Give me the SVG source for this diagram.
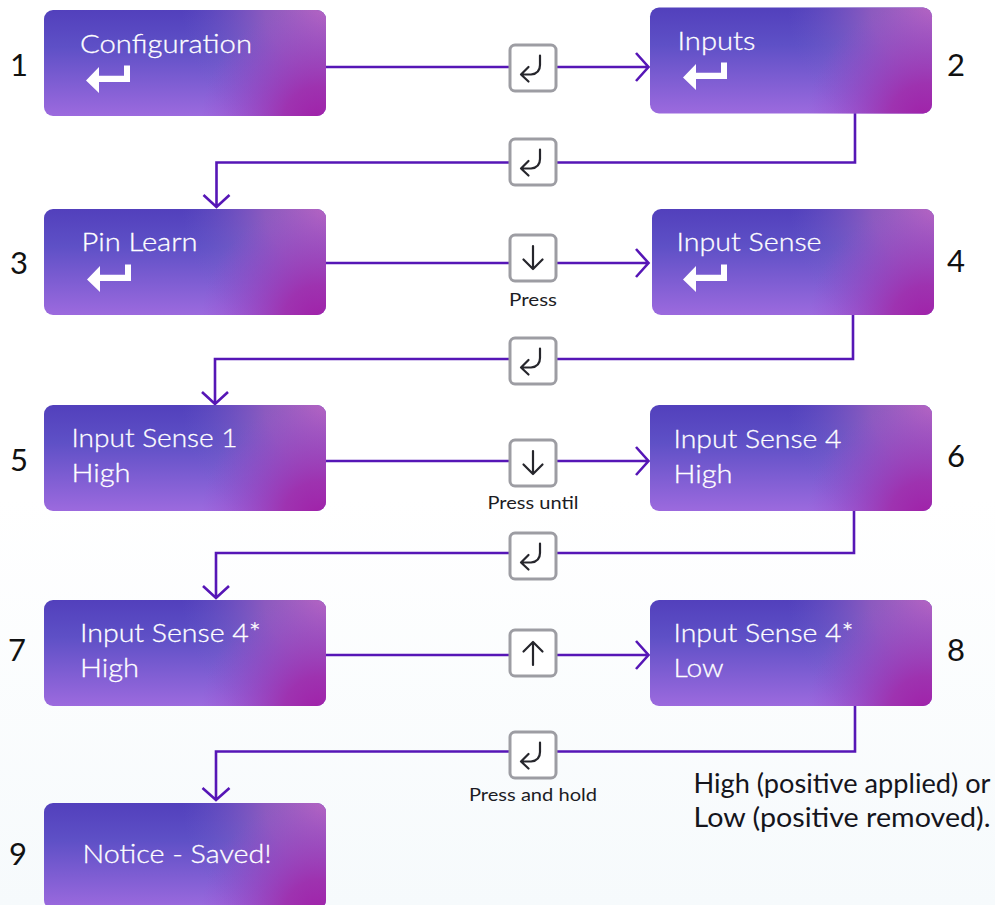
<svg xmlns="http://www.w3.org/2000/svg" width="995" height="905" viewBox="0 0 995 905">
<style>
.t{font-family:"Lato","Liberation Sans",sans-serif;font-size:26px;font-weight:300;fill:#fff;stroke:#fff;stroke-width:0.3}
.n{font-family:"Lato","Liberation Sans",sans-serif;font-size:31px;fill:#111;text-anchor:middle}
.l{font-family:"Lato","Liberation Sans",sans-serif;font-size:17px;fill:#1c1c24;text-anchor:middle}
.c{font-family:"Lato","Liberation Sans",sans-serif;font-size:26px;fill:#15151c}
.w{fill:none;stroke:#5616b6;stroke-width:2.6}
.k{fill:#fff;stroke:#9d9da3;stroke-width:3}
.g{fill:none;stroke:#26262c;stroke-width:2.2;stroke-linecap:round;stroke-linejoin:round}
.e{fill:#fff}
</style>
<defs>
<linearGradient id="bg" x1="0" y1="0" x2="0" y2="1"><stop offset="0.55" stop-color="#fff"/><stop offset="1" stop-color="#f6fafc"/></linearGradient>
<linearGradient id="base" x1="0" y1="0" x2="0" y2="1"><stop offset="0" stop-color="#5240bc"/><stop offset="0.35" stop-color="#5e50c6"/><stop offset="1" stop-color="#9c6ade"/></linearGradient>
<radialGradient id="tr" gradientUnits="userSpaceOnUse" cx="288" cy="-4" r="150"><stop offset="0" stop-color="#bc68c2"/><stop offset="0.45" stop-color="#a464c0" stop-opacity="0.7"/><stop offset="1" stop-color="#7060c8" stop-opacity="0"/></radialGradient>
<radialGradient id="br" gradientUnits="userSpaceOnUse" cx="275" cy="112" r="118"><stop offset="0" stop-color="#a020a8"/><stop offset="0.3" stop-color="#a02cac" stop-opacity="0.88"/><stop offset="1" stop-color="#9848cc" stop-opacity="0"/></radialGradient>
<g id="box"><rect width="282" height="106" rx="9" fill="url(#base)"/><rect width="282" height="106" rx="9" fill="url(#tr)"/><rect width="282" height="106" rx="9" fill="url(#br)"/></g>
<path id="ent" class="e" d="M0 13.500L13 0V8.800H38V-1.500H44V15H13V26Z"/>
<g id="kE"><rect class="k" x="-23" y="-23" width="46" height="46" rx="5"/><path class="g" d="M7 -12.500V-3C7 3 3 6 -2 6.500H-12M-4.500 -1L-12 6.500L-4.500 13.500"/></g>
<g id="kD"><rect class="k" x="-23" y="-23" width="46" height="46" rx="5"/><path class="g" d="M0 -12V10M-9.500 1.500L0 11L9.500 1.500"/></g>
<g id="kU"><rect class="k" x="-23" y="-23" width="46" height="46" rx="5"/><path class="g" d="M0 12V-10M-9.500 -1.500L0 -11L9.500 -1.500"/></g>
</defs>
<rect width="995" height="905" fill="url(#bg)"/>
<g id="connectors">
<path class="w" d="M326 67H648M636 53L648.500 67L636 81"/>
<path class="w" d="M855 113V162.500H216.500V207M203.500 195L216.500 207L229.500 195"/>
<path class="w" d="M326 263H648M636 249L648.500 263L636 277"/>
<path class="w" d="M853 315V359H215V404M202 392L215 404L228 392"/>
<path class="w" d="M326 461H648M636 447L648.500 461L636 475"/>
<path class="w" d="M854 511V553H216V598M203 586L216 598L229 586"/>
<path class="w" d="M326 655H648M636 641L648.500 655L636 669"/>
<path class="w" d="M855 706V751.500H216V800M202.500 788L216 800L229.500 788"/>
</g>
<g id="keys">
<use href="#kE" x="533" y="68"/>
<use href="#kE" x="533" y="162"/>
<use href="#kD" x="533" y="258"/>
<use href="#kE" x="533" y="361"/>
<use href="#kD" x="533" y="463"/>
<use href="#kE" x="533" y="556"/>
<use href="#kU" x="533" y="653"/>
<use href="#kE" x="533" y="755"/>
</g>
<g id="node1"><use href="#box" x="44" y="10"/><text class="t" x="80" y="53" textLength="172" lengthAdjust="spacingAndGlyphs">Configuration</text><use href="#ent" x="86" y="67"/><text class="n" x="19" y="76">1</text></g>
<g id="node2"><use href="#box" x="650" y="7.500"/><text class="t" x="677.500" y="50" textLength="78" lengthAdjust="spacingAndGlyphs">Inputs</text><use href="#ent" x="683" y="64"/><text class="n" x="956" y="76">2</text></g>
<g id="node3"><use href="#box" x="44" y="209"/><text class="t" x="81.500" y="251" textLength="116" lengthAdjust="spacingAndGlyphs">Pin Learn</text><use href="#ent" x="87" y="266"/><text class="n" x="19" y="274">3</text></g>
<g id="node4"><use href="#box" x="652" y="209"/><text class="t" x="676.500" y="251" textLength="145" lengthAdjust="spacingAndGlyphs">Input Sense</text><use href="#ent" x="683" y="266"/><text class="n" x="956" y="272">4</text></g>
<g id="node5"><use href="#box" x="44" y="405"/><text class="t" x="71.500" y="447" textLength="166" lengthAdjust="spacingAndGlyphs">Input Sense 1</text><text class="t" x="71.500" y="482" textLength="59" lengthAdjust="spacingAndGlyphs">High</text><text class="n" x="19" y="471">5</text></g>
<g id="node6"><use href="#box" x="650" y="405"/><text class="t" x="673.500" y="448" textLength="168" lengthAdjust="spacingAndGlyphs">Input Sense 4</text><text class="t" x="673.500" y="483" textLength="59" lengthAdjust="spacingAndGlyphs">High</text><text class="n" x="956" y="467">6</text></g>
<g id="node7"><use href="#box" x="44" y="600"/><text class="t" x="80" y="642" textLength="181" lengthAdjust="spacingAndGlyphs">Input Sense 4*</text><text class="t" x="80" y="677" textLength="59" lengthAdjust="spacingAndGlyphs">High</text><text class="n" x="17" y="661">7</text></g>
<g id="node8"><use href="#box" x="650" y="600"/><text class="t" x="673.500" y="642" textLength="180" lengthAdjust="spacingAndGlyphs">Input Sense 4*</text><text class="t" x="673.500" y="677" textLength="50" lengthAdjust="spacingAndGlyphs">Low</text><text class="n" x="956" y="661">8</text></g>
<g id="node9"><use href="#box" x="44" y="803"/><text class="t" x="82.500" y="863" textLength="189" lengthAdjust="spacingAndGlyphs">Notice - Saved!</text><text class="n" x="18" y="865">9</text></g>
<g id="labels">
<text class="l" x="533" y="306" textLength="48" lengthAdjust="spacingAndGlyphs">Press</text>
<text class="l" x="533" y="509" textLength="91" lengthAdjust="spacingAndGlyphs">Press until</text>
<text class="l" x="533" y="801" textLength="128" lengthAdjust="spacingAndGlyphs">Press and hold</text>
<text class="c" x="693.500" y="793" textLength="297" lengthAdjust="spacingAndGlyphs">High (positive applied) or</text>
<text class="c" x="693.500" y="827" textLength="297" lengthAdjust="spacingAndGlyphs">Low (positive removed).</text>
</g>
</svg>
